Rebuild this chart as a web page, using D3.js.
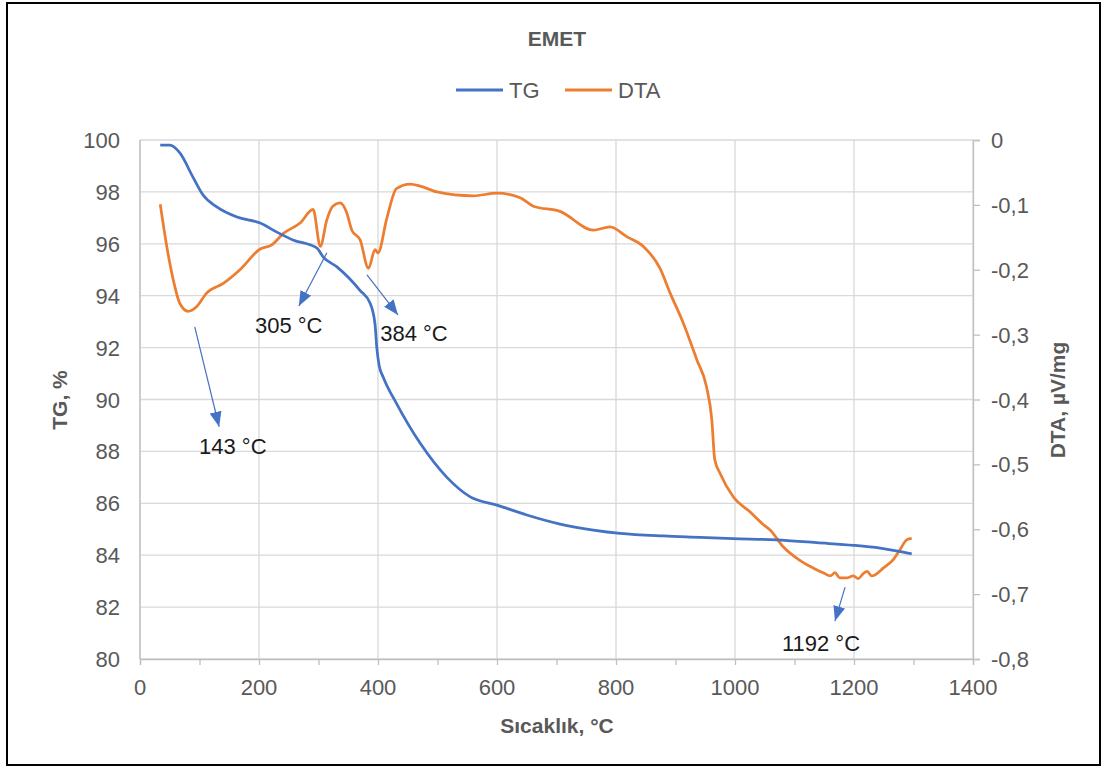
<!DOCTYPE html>
<html>
<head>
<meta charset="utf-8">
<script src="https://cdn.jsdelivr.net/npm/d3@7"></script>
<style>
  body { margin: 0; background: #fff; }
  svg { display: block; font-family: "Liberation Sans", Arial, sans-serif; }
</style>
</head>
<body>
<svg width="1105" height="767"></svg>
<script>
// TG curve (temperature °C, mass %)
var tgTemp = [34, 50, 67, 89, 106, 129, 163, 202, 230, 257, 297, 308, 331, 370, 387, 395, 398, 402, 409, 431, 471, 515, 555, 600, 650, 706, 762, 807, 880, 941, 997, 1070, 1137, 1199, 1244, 1297];
var tgVal = [99.8, 99.8, 99.5, 98.57, 97.88, 97.42, 97.03, 96.8, 96.45, 96.15, 95.84, 95.49, 95.11, 94.2, 93.7, 92.9, 92.0, 91.3, 90.85, 89.85, 88.31, 87.02, 86.25, 85.93, 85.55, 85.2, 84.97, 84.84, 84.74, 84.69, 84.64, 84.59, 84.48, 84.38, 84.27, 84.05];

// DTA curve (temperature °C, µV/mg)
var dtaTemp = [34, 45, 56, 67, 81, 95, 112, 140, 168, 202, 221, 241, 269, 291, 303, 314, 324, 336, 347, 356, 370, 384, 395, 400, 415, 431, 454, 471, 499, 560, 600, 639, 661, 706, 762, 790, 818, 846, 874, 891, 913, 936, 952, 961, 966, 975, 997, 1025, 1048, 1059, 1081, 1109, 1132, 1150, 1160, 1168, 1176, 1187, 1199, 1207, 1216, 1222, 1230, 1236, 1249, 1266, 1277, 1289, 1297];
var dtaVal = [-0.099, -0.164, -0.216, -0.252, -0.264, -0.257, -0.236, -0.221, -0.2, -0.168, -0.162, -0.144, -0.128, -0.107, -0.164, -0.123, -0.102, -0.097, -0.111, -0.139, -0.154, -0.198, -0.169, -0.174, -0.12, -0.075, -0.068, -0.071, -0.08, -0.086, -0.082, -0.089, -0.102, -0.11, -0.139, -0.134, -0.149, -0.164, -0.198, -0.236, -0.282, -0.339, -0.38, -0.431, -0.493, -0.514, -0.55, -0.573, -0.593, -0.601, -0.627, -0.648, -0.66, -0.668, -0.672, -0.667, -0.675, -0.675, -0.672, -0.676, -0.668, -0.665, -0.672, -0.67, -0.66, -0.647, -0.632, -0.616, -0.614];

var xTicks = [0, 200, 400, 600, 800, 1000, 1200, 1400];
var tgTicks = [80, 82, 84, 86, 88, 90, 92, 94, 96, 98, 100];
var dtaTicks = [-0.8, -0.7, -0.6, -0.5, -0.4, -0.3, -0.2, -0.1, 0];

// peak annotations: arrow from -> to, in (°C, TG %) coordinates
var annoText = ["143 °C", "305 °C", "384 °C", "1192 °C"];
var annoFrom = [[92, 92.8], [314, 95.65], [381.5, 94.8], [1185, 82.77]];
var annoTo = [[133, 88.95], [267, 93.6], [433.6, 93.26], [1168, 81.46]];
var annoPos = [[156, 87.9], [250, 92.56], [460.5, 92.26], [1144.5, 80.32]];

var blue = "#4472C4", orange = "#ED7D31", grey = "#595959";

var svg = d3.select("svg");

var x = d3.scaleLinear().domain([0, 1400]).range([140, 973]);
var yL = d3.scaleLinear().domain([80, 100]).range([659, 140]);
var yR = d3.scaleLinear().domain([-0.8, 0]).range([659, 140]);

// outer frame
svg.append("rect")
  .attr("x", 7).attr("y", 3).attr("width", 1093).attr("height", 762)
  .attr("fill", "#fff").attr("stroke", "#000").attr("stroke-width", 2);

// gridlines
svg.append("g").selectAll("line")
  .data(tgTicks)
  .enter().append("line")
  .attr("x1", x(0)).attr("x2", x(1400))
  .attr("y1", function (d) { return yL(d); })
  .attr("y2", function (d) { return yL(d); })
  .style("stroke", "#d9d9d9").style("stroke-width", 1.3);

svg.append("g").selectAll("line")
  .data(xTicks)
  .enter().append("line")
  .attr("x1", function (d) { return x(d); })
  .attr("x2", function (d) { return x(d); })
  .attr("y1", yL(100)).attr("y2", yL(80))
  .style("stroke", "#d9d9d9").style("stroke-width", 1.3);

// bottom axis with minor ticks every 100
var xAxis = d3.axisBottom(x).tickValues(d3.range(0, 1401, 100)).tickSize(6).tickFormat("");
var gx = svg.append("g").attr("transform", "translate(0," + yL(80) + ")").call(xAxis);
gx.selectAll("path, line").style("stroke", "#bfbfbf").style("stroke-width", 1.3);

svg.append("g").selectAll("text")
  .data(xTicks)
  .enter().append("text")
  .attr("x", function (d) { return x(d); })
  .attr("y", 695)
  .attr("text-anchor", "middle")
  .style("font-size", "22px").style("fill", grey)
  .text(function (d) { return d; });

// left axis
svg.append("line")
  .attr("x1", x(0)).attr("x2", x(0)).attr("y1", yL(100)).attr("y2", yL(80))
  .style("stroke", "#bfbfbf").style("stroke-width", 1.3);
svg.append("g").selectAll("text")
  .data(tgTicks)
  .enter().append("text")
  .attr("x", 120)
  .attr("y", function (d) { return yL(d) + 8; })
  .attr("text-anchor", "end")
  .style("font-size", "22px").style("fill", grey)
  .text(function (d) { return d; });

// right axis
var yAxisR = d3.axisRight(yR).tickValues(dtaTicks).tickSize(7).tickFormat("");
var gr = svg.append("g").attr("transform", "translate(" + x(1400) + ",0)").call(yAxisR);
gr.selectAll("path, line").style("stroke", "#bfbfbf").style("stroke-width", 1.3);
svg.append("g").selectAll("text")
  .data(dtaTicks)
  .enter().append("text")
  .attr("x", 991)
  .attr("y", function (d) { return yR(d) + 8; })
  .style("font-size", "22px").style("fill", grey)
  .text(function (d) { return d === 0 ? "0" : "-" + Math.abs(d).toFixed(1).replace(".", ","); });

// axis titles
svg.append("text")
  .attr("transform", "translate(67,400) rotate(-90)")
  .attr("text-anchor", "middle")
  .style("font-size", "21px").style("font-weight", "bold").style("fill", grey)
  .text("TG, %");
svg.append("text")
  .attr("transform", "translate(1065,400) rotate(-90)")
  .attr("text-anchor", "middle")
  .style("font-size", "21px").style("font-weight", "bold").style("fill", grey)
  .text("DTA, µV/mg");
svg.append("text")
  .attr("x", 557).attr("y", 733)
  .attr("text-anchor", "middle")
  .style("font-size", "21px").style("font-weight", "bold").style("fill", grey)
  .text("Sıcaklık, °C");

// title
svg.append("text")
  .attr("x", 557).attr("y", 46)
  .attr("text-anchor", "middle")
  .style("font-size", "21px").style("font-weight", "bold").style("fill", grey)
  .text("EMET");

// legend
var legend = [["TG", blue, 456], ["DTA", orange, 565]];
var lg = svg.append("g").selectAll("g").data(legend).enter().append("g");
lg.append("line")
  .attr("x1", function (d) { return d[2]; })
  .attr("x2", function (d) { return d[2] + 47; })
  .attr("y1", 90).attr("y2", 90)
  .style("stroke", function (d) { return d[1]; })
  .style("stroke-width", 3);
lg.append("text")
  .attr("x", function (d) { return d[2] + 53; })
  .attr("y", 98)
  .style("font-size", "22px").style("fill", grey)
  .text(function (d) { return d[0]; });

// curves
var tgLine = d3.line()
  .x(function (d) { return x(d[0]); })
  .y(function (d) { return yL(d[1]); })
  .curve(d3.curveMonotoneX);
var dtaLine = d3.line()
  .x(function (d) { return x(d[0]); })
  .y(function (d) { return yR(d[1]); })
  .curve(d3.curveMonotoneX);

svg.append("path")
  .datum(d3.zip(dtaTemp, dtaVal))
  .attr("d", dtaLine)
  .style("fill", "none").style("stroke", orange).style("stroke-width", 2.75)
  .style("stroke-linejoin", "round");

svg.append("path")
  .datum(d3.zip(tgTemp, tgVal))
  .attr("d", tgLine)
  .style("fill", "none").style("stroke", blue).style("stroke-width", 2.75)
  .style("stroke-linejoin", "round");

// annotation arrows
svg.append("defs").append("marker")
  .attr("id", "head")
  .attr("markerUnits", "userSpaceOnUse")
  .attr("markerWidth", 15).attr("markerHeight", 12)
  .attr("refX", 15).attr("refY", 6)
  .attr("orient", "auto")
  .append("path")
  .attr("d", "M0,0L15,6L0,12Z")
  .style("fill", blue);

var annos = d3.range(annoText.length).map(function (i) {
  return { text: annoText[i], from: annoFrom[i], to: annoTo[i], pos: annoPos[i] };
});

svg.append("g").selectAll("line")
  .data(annos)
  .enter().append("line")
  .attr("x1", function (d) { return x(d.from[0]); })
  .attr("y1", function (d) { return yL(d.from[1]); })
  .attr("x2", function (d) { return x(d.to[0]); })
  .attr("y2", function (d) { return yL(d.to[1]); })
  .style("stroke", blue).style("stroke-width", 1.2)
  .attr("marker-end", "url(#head)");

svg.append("g").selectAll("text")
  .data(annos)
  .enter().append("text")
  .attr("x", function (d) { return x(d.pos[0]); })
  .attr("y", function (d) { return yL(d.pos[1]); })
  .attr("text-anchor", "middle")
  .style("font-size", "22px").style("fill", "#1a1a1a")
  .text(function (d) { return d.text; });
</script>
</body>
</html>
